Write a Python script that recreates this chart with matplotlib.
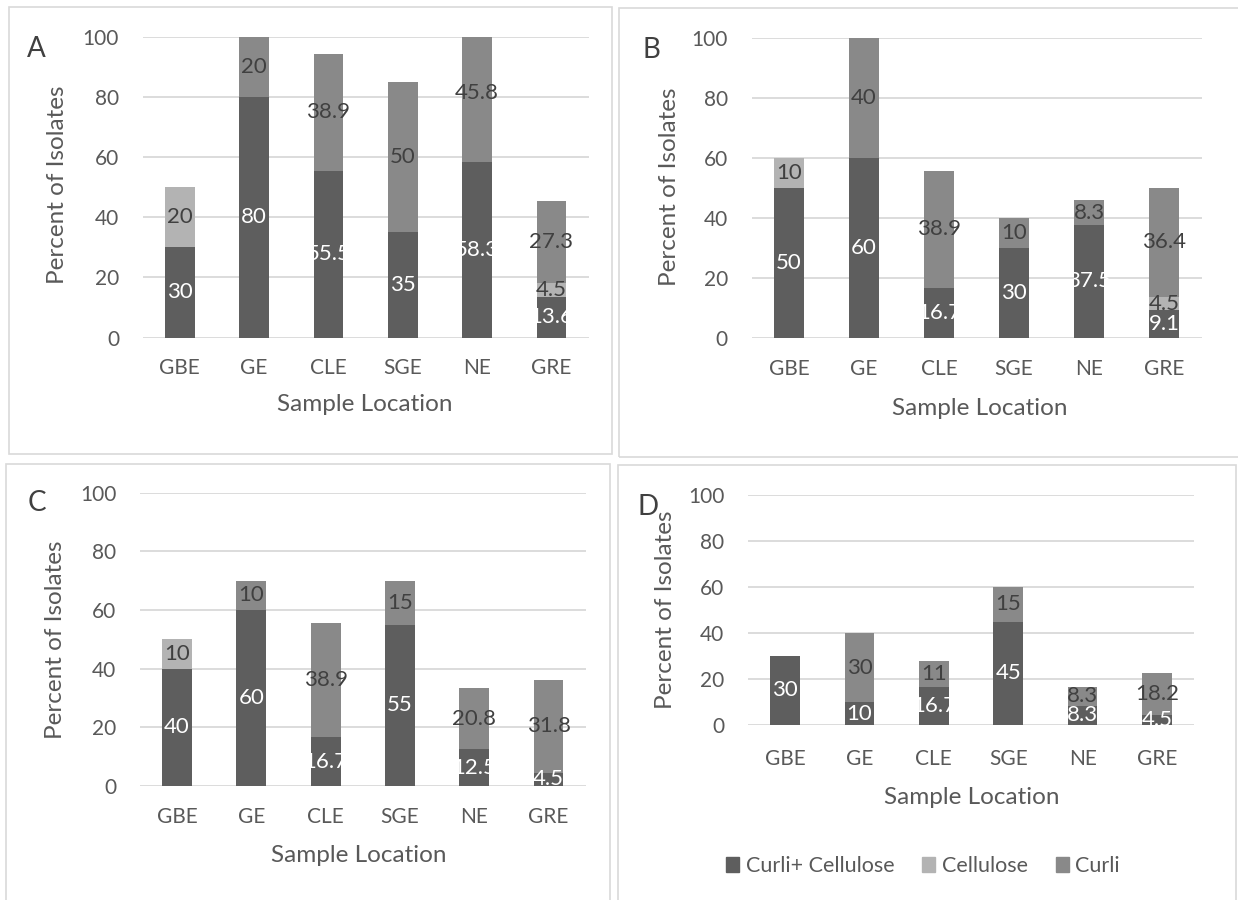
import matplotlib
matplotlib.use("Agg")
import matplotlib.pyplot as plt
from matplotlib.patches import Rectangle, Patch

plt.rcParams['font.family'] = ['Lato', 'DejaVu Sans']

# data
cats = ['GBE', 'GE', 'CLE', 'SGE', 'NE', 'GRE']
series_names = ['Curli+ Cellulose', 'Cellulose', 'Curli']

a_both = [30, 80, 55.5, 35, 58.3, 13.6]
a_cell = [20, 0, 0, 0, 0, 4.5]
a_curli = [0, 20, 38.9, 50, 45.8, 27.3]

b_both = [50, 60, 16.7, 30, 37.5, 9.1]
b_cell = [10, 0, 0, 0, 0, 4.5]
b_curli = [0, 40, 38.9, 10, 8.3, 36.4]

c_both = [40, 60, 16.7, 55, 12.5, 4.5]
c_cell = [10, 0, 0, 0, 0, 0]
c_curli = [0, 10, 38.9, 15, 20.8, 31.8]

d_both = [30, 10, 16.7, 45, 8.3, 4.5]
d_cell = [0, 0, 0, 0, 0, 0]
d_curli = [0, 30, 11, 15, 8.3, 18.2]

yticks = [0, 20, 40, 60, 80, 100]

colors = ['#5e5e5e', '#b3b3b3', '#898989']
label_colors = ['white', '#404040', '#404040']
txt = '#595959'
grid = '#d9d9d9'

W, H = 1238, 900
fig = plt.figure(figsize=(W / 100, H / 100), dpi=100)


def px_box(x0, y0, x1, y1):
    # pixel box (top-left origin) -> figure fraction rect
    return [x0 / W, 1 - y1 / H, (x1 - x0) / W, (y1 - y0) / H]


def panel(rect, frame, letter, lpos, ylpos, xlpos, data, xpad=15):
    fig.add_artist(Rectangle((frame[0] / W, 1 - frame[3] / H),
                             (frame[2] - frame[0]) / W, (frame[3] - frame[1]) / H,
                             transform=fig.transFigure, fill=False,
                             edgecolor=grid, linewidth=1.2))
    ax = fig.add_axes(px_box(*rect))
    x = list(range(len(cats)))
    bottom = [0] * len(cats)
    for k, vals in enumerate(data):
        bars = ax.bar(x, vals, width=0.4, bottom=bottom, color=colors[k], zorder=2)
        for i, b in enumerate(bars):
            if vals[i] == 0:
                continue
            yc = bottom[i] + vals[i] / 2
            # excel clips the label to the bar segment
            t = ax.text(x[i], yc, f'{vals[i]:g}', ha='center', va='center',
                        fontsize=16, color=label_colors[k], zorder=3)
            t.set_clip_path(b)
        bottom = [bottom[i] + vals[i] for i in range(len(cats))]
    ax.set_xlim(-0.5, len(cats) - 0.5)
    ax.set_ylim(0, 100)
    ax.set_yticks(yticks)
    ax.set_xticks(x)
    ax.set_xticklabels(cats)
    for s in ax.spines.values():
        s.set_visible(False)
    ax.yaxis.grid(True, color=grid, linewidth=1.3, zorder=0)
    ax.set_axisbelow(True)
    ax.tick_params(length=0, labelsize=15, labelcolor=txt)
    ax.tick_params(axis='x', pad=xpad)
    ax.tick_params(axis='y', pad=17)
    fig.text(lpos[0] / W, 1 - lpos[1] / H, letter, fontsize=20, color='#404040',
             ha='center', va='center')
    fig.text(ylpos[0] / W, 1 - ylpos[1] / H, 'Percent of Isolates', rotation=90,
             fontsize=17.5, color=txt, ha='center', va='center')
    fig.text(xlpos[0] / W, 1 - xlpos[1] / H, 'Sample Location',
             fontsize=17.5, color=txt, ha='center', va='center')
    return ax


panel((142.7, 37, 588.6, 337.5), (9, 7, 612, 454), 'A', (36, 49), (58, 185), (365, 405),
      [a_both, a_cell, a_curli])
panel((751.5, 37.7, 1201.5, 337.7), (619, 8, 1245, 457), 'B', (651, 50), (670, 187), (980, 408),
      [b_both, b_cell, b_curli])
panel((139.9, 492.7, 585.7, 786), (6, 464, 610, 905), 'C', (37, 503), (56, 640), (359, 855),
      [c_both, c_cell, c_curli])
panel((747.8, 495, 1194.2, 725), (618, 465, 1236, 905), 'D', (648, 507), (665, 610), (972, 797),
      [d_both, d_cell, d_curli], xpad=17)

handles = [Patch(color=colors[k], label=series_names[k]) for k in range(3)]
fig.legend(handles=handles, loc='center', bbox_to_anchor=(923 / W, 1 - 866 / H),
           ncol=3, frameon=False, fontsize=15.5, labelcolor=txt,
           handlelength=0.6, handleheight=0.7, handletextpad=0.3, columnspacing=1.3)

fig.savefig('out.png', dpi=100)
